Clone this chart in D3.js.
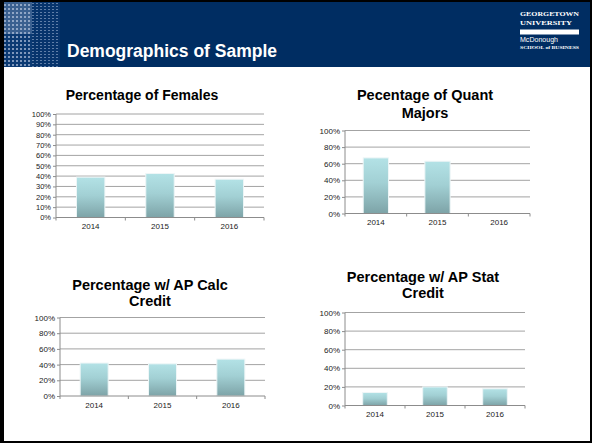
<!DOCTYPE html>
<html>
<head>
<meta charset="utf-8">
<script src="https://cdn.jsdelivr.net/npm/d3@7"></script>
<style>
  body { margin: 0; background: #fff; }
  svg { display: block; font-family: "Liberation Sans", Arial, sans-serif; }
</style>
</head>
<body>
<div id="slide"></div>
<script>
// ---- data ----
var years = ["2014", "2015", "2016"];
var femaleVals = [0.39, 0.425, 0.37];
var quantVals = [0.67, 0.63, null];
var calcVals = [0.42, 0.41, 0.47];
var statVals = [0.14, 0.20, 0.18];
var ticks10 = [0, 0.1, 0.2, 0.3, 0.4, 0.5, 0.6, 0.7, 0.8, 0.9, 1];
var ticks20 = [0, 0.2, 0.4, 0.6, 0.8, 1];

var W = 592, H = 443;

var svg = d3.select("#slide").append("svg")
  .attr("width", W)
  .attr("height", H);

var defs = svg.append("defs");

// bar gradient
var grad = defs.append("linearGradient")
  .attr("id", "barGrad")
  .attr("x1", 0).attr("y1", 0).attr("x2", 0).attr("y2", 1);
grad.append("stop").attr("offset", "0%").attr("stop-color", "#b3e2e6");
grad.append("stop").attr("offset", "45%").attr("stop-color", "#a2d0d4");
grad.append("stop").attr("offset", "100%").attr("stop-color", "#7da3a7");

// header pattern (dotted texture top-left)
var pat = defs.append("pattern")
  .attr("id", "dots")
  .attr("width", 4).attr("height", 4)
  .attr("patternUnits", "userSpaceOnUse");
pat.append("rect").attr("width", 4).attr("height", 4).attr("fill", "#0b3a73");
pat.append("rect").attr("width", 2).attr("height", 2).attr("fill", "#7e97bb");

var pat2 = defs.append("pattern")
  .attr("id", "dots2")
  .attr("width", 4).attr("height", 3)
  .attr("patternUnits", "userSpaceOnUse");
pat2.append("rect").attr("width", 4).attr("height", 3).attr("fill", "#07346c");
pat2.append("rect").attr("width", 2).attr("height", 1).attr("fill", "#5f7ea8");

// ---- slide frame + header ----
svg.append("rect")
  .attr("x", 0).attr("y", 0).attr("width", W).attr("height", H)
  .attr("fill", "#000");
svg.append("rect")
  .attr("x", 4).attr("y", 2).attr("width", W - 6).attr("height", H - 4)
  .attr("fill", "#fff");
svg.append("rect")
  .attr("x", 4).attr("y", 2).attr("width", W - 6).attr("height", 65)
  .attr("fill", "#002d62");
svg.append("rect")
  .attr("x", 4).attr("y", 2).attr("width", 28).attr("height", 65)
  .attr("fill", "url(#dots)");
svg.append("rect")
  .attr("x", 32).attr("y", 2).attr("width", 28).attr("height", 65)
  .attr("fill", "url(#dots2)");
svg.append("rect")
  .attr("x", 4).attr("y", 2).attr("width", 28).attr("height", 32)
  .attr("fill", "#c9d4e6").attr("opacity", 0.25);

svg.append("text")
  .attr("x", 67).attr("y", 57)
  .attr("fill", "#fff")
  .attr("font-size", 17.5)
  .attr("font-weight", "bold")
  .text("Demographics of Sample");

// logo
var logo = svg.append("g").attr("fill", "#fff")
  .attr("font-family", "'Liberation Serif', 'Times New Roman', serif");
logo.append("text").attr("x", 520).attr("y", 16).attr("font-size", 7)
  .attr("font-weight", "bold").attr("textLength", 59).attr("lengthAdjust", "spacingAndGlyphs")
  .text("GEORGETOWN");
logo.append("text").attr("x", 520).attr("y", 25).attr("font-size", 7)
  .attr("font-weight", "bold").attr("textLength", 52).attr("lengthAdjust", "spacingAndGlyphs")
  .text("UNIVERSITY");
logo.append("rect").attr("x", 520).attr("y", 29.5).attr("width", 59).attr("height", 5);
logo.append("text").attr("x", 520).attr("y", 42).attr("font-size", 7.5)
  .attr("font-family", "'Liberation Sans', Arial, sans-serif")
  .attr("textLength", 38).attr("lengthAdjust", "spacingAndGlyphs")
  .text("McDonough");
logo.append("text").attr("x", 520).attr("y", 48.5).attr("font-size", 4.6)
  .attr("font-weight", "bold").attr("textLength", 59).attr("lengthAdjust", "spacingAndGlyphs")
  .text("SCHOOL of BUSINESS");

// ---- charts ----
var fmt = d3.format(".0%");

function drawChart(opt) {
  var g = svg.append("g");

  var title = g.append("text")
    .attr("text-anchor", "middle")
    .attr("font-size", opt.titleFont)
    .attr("font-weight", "bold")
    .attr("fill", "#000");
  opt.title.forEach(function(line, i) {
    title.append("tspan")
      .attr("x", opt.titleX)
      .attr("y", opt.titleY + i * opt.titleLead)
      .text(line);
  });

  var x = d3.scaleBand()
    .domain(years)
    .range([opt.left, opt.right])
    .paddingInner(0.59)
    .paddingOuter(0.295);

  var y = d3.scaleLinear()
    .domain([0, 1])
    .range([opt.bottom, opt.top]);

  // gridlines
  g.append("g")
    .selectAll("line")
    .data(opt.ticks.filter(function(t) { return t > 0; }))
    .enter().append("line")
    .attr("x1", opt.left).attr("x2", opt.right)
    .attr("y1", function(d) { return y(d); })
    .attr("y2", function(d) { return y(d); })
    .attr("stroke", "#8c8c8c")
    .attr("stroke-width", 0.8);

  // bars
  g.append("g")
    .selectAll("rect")
    .data(opt.values.map(function(v, i) { return { year: years[i], v: v }; })
      .filter(function(d) { return d.v != null; }))
    .enter().append("rect")
    .attr("x", function(d) { return x(d.year); })
    .attr("width", x.bandwidth())
    .attr("y", function(d) { return y(d.v); })
    .attr("height", function(d) { return y(0) - y(d.v); })
    .attr("fill", "url(#barGrad)")
    .attr("stroke", "#eef6f7")
    .attr("stroke-width", 1);

  // y axis
  var ya = g.append("g")
    .attr("transform", "translate(" + opt.left + ",0)")
    .call(d3.axisLeft(y).tickValues(opt.ticks).tickFormat(fmt).tickSize(3).tickPadding(2));
  ya.select(".domain").attr("stroke", "#8c8c8c").attr("d", "M0," + opt.top + "V" + opt.bottom);
  ya.selectAll(".tick line").attr("stroke", "#8c8c8c");
  ya.selectAll(".tick text")
    .attr("font-size", opt.tickFont)
    .attr("font-family", "'Liberation Sans', Arial, sans-serif")
    .attr("fill", "#222");

  // x axis
  var xa = g.append("g")
    .attr("transform", "translate(0," + opt.bottom + ")")
    .call(d3.axisBottom(x).tickSize(0).tickPadding(opt.xPad));
  xa.select(".domain").attr("stroke", "#8c8c8c").attr("d", "M" + opt.left + ",0H" + opt.right);
  xa.selectAll(".tick text")
    .attr("font-size", 8)
    .attr("font-family", "'Liberation Sans', Arial, sans-serif")
    .attr("fill", "#222");

  // category separator ticks
  g.append("g")
    .selectAll("line")
    .data(d3.range(years.length + 1))
    .enter().append("line")
    .attr("x1", function(i) { return opt.left + i * (opt.right - opt.left) / years.length; })
    .attr("x2", function(i) { return opt.left + i * (opt.right - opt.left) / years.length; })
    .attr("y1", opt.bottom).attr("y2", opt.bottom + 3)
    .attr("stroke", "#8c8c8c");
}

drawChart({
  title: ["Percentage of Females"], titleX: 142, titleY: 100, titleLead: 16, titleFont: 14,
  values: femaleVals, ticks: ticks10,
  left: 56, right: 264, top: 114, bottom: 217.5, tickFont: 7.5, xPad: 6
});

drawChart({
  title: ["Pecentage of Quant", "Majors"], titleX: 425, titleY: 100, titleLead: 18, titleFont: 14.5,
  values: quantVals, ticks: ticks20,
  left: 345, right: 530, top: 130.5, bottom: 213.5, tickFont: 8, xPad: 6
});

drawChart({
  title: ["Percentage w/ AP Calc", "Credit"], titleX: 150, titleY: 290, titleLead: 16, titleFont: 14.5,
  values: calcVals, ticks: ticks20,
  left: 60, right: 265, top: 317.5, bottom: 396, tickFont: 8, xPad: 6
});

drawChart({
  title: ["Percentage w/ AP Stat", "Credit"], titleX: 423, titleY: 282, titleLead: 16, titleFont: 14.5,
  values: statVals, ticks: ticks20,
  left: 345, right: 525, top: 312.5, bottom: 405.5, tickFont: 8, xPad: 6
});
</script>
</body>
</html>
